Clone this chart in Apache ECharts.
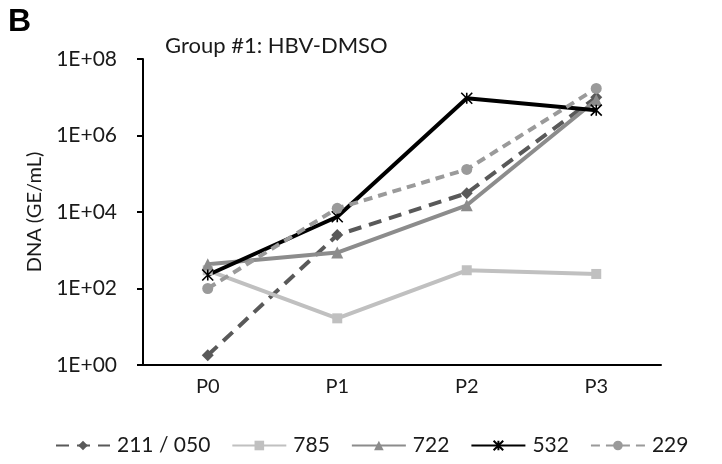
<!DOCTYPE html>
<html>
<head>
<meta charset="utf-8">
<script src="https://cdn.jsdelivr.net/npm/echarts@6/dist/echarts.min.js"></script>
<style>
html,body{margin:0;padding:0;background:#fff;}
#chart{width:722px;height:464px;}
</style>
</head>
<body>
<div id="chart"></div>
<script>
var categories = ['P0', 'P1', 'P2', 'P3'];
var seriesNames = ['211 / 050', '785', '722', '532', '229'];
var s211 = [1.8, 2500, 31000, 10000000];
var s785 = [300, 16.6, 300, 240];
var s722 = [430, 870, 15000, 8500000];
var s532 = [225, 7500, 9400000, 4600000];
var s229 = [100, 12500, 130000, 17000000];
var yTickExponents = [0, 2, 4, 6, 8];

var FONT = 'Lato';
var TXT = '#1a1a1a';
var chart = echarts.init(document.getElementById('chart'), null, {renderer: 'canvas'});

function fmt(v) {
  var e = Math.round(Math.log10(v));
  return '1E+' + (e < 10 ? '0' + e : '' + e);
}

var asterisk = 'path://M0,0 L10,10 M10,0 L0,10 M5,0 L5,10';

function mk(name, data, color, width, dash, symbol, size, extra) {
  var s = {
    name: name,
    type: 'line',
    data: data,
    symbol: symbol,
    symbolSize: size,
    lineStyle: {color: color, width: width, type: dash, cap: 'butt'},
    itemStyle: {color: color},
    emphasis: {disabled: true},
    animation: false
  };
  if (extra) { for (var k in extra) s[k] = extra[k]; }
  return s;
}

var option = {
  backgroundColor: '#fff',
  animation: false,
  graphic: [
    {type: 'text', left: 8, top: 6, style: {text: 'B', font: 'bold 32px "Liberation Sans", Arial', fill: '#000'}},
    {type: 'text', left: 165, top: 35, style: {text: 'Group #1: HBV-DMSO', font: '22px ' + FONT, fill: TXT}}
  ],
  grid: {left: 143, right: 61, top: 59, bottom: 99, containLabel: false},
  legend: {
    data: seriesNames,
    left: 50,
    top: 430,
    itemWidth: 54,
    itemHeight: 12,
    itemGap: 21,
    textStyle: {fontFamily: FONT, fontSize: 21, color: TXT, padding: [0, 0, 0, 2]}
  },
  xAxis: {
    type: 'category',
    data: categories,
    boundaryGap: true,
    axisLine: {lineStyle: {color: '#000', width: 2}},
    axisTick: {alignWithLabel: true, length: 6, lineStyle: {color: '#000', width: 2}},
    axisLabel: {fontFamily: FONT, fontSize: 20, color: TXT, margin: 12}
  },
  yAxis: {
    type: 'log',
    logBase: 10,
    min: 1,
    max: 1e8,
    interval: 2,
    name: 'DNA (GE/mL)',
    nameLocation: 'middle',
    nameGap: 98,
    nameTextStyle: {fontFamily: FONT, fontSize: 20, color: TXT},
    axisLine: {show: true, lineStyle: {color: '#000', width: 2}},
    axisTick: {show: true, length: 6, lineStyle: {color: '#000', width: 2}},
    splitLine: {show: false},
    axisLabel: {fontFamily: FONT, fontSize: 21, color: TXT, margin: 26,
      formatter: function (v) {
        var e = Math.round(Math.log10(v));
        return yTickExponents.indexOf(e) >= 0 ? fmt(v) : '';
      }}
  },
  series: [
    mk('211 / 050', s211, '#595959', 4, [13, 8], 'diamond', 12),
    mk('785', s785, '#c0c0c0', 4, 'solid', 'rect', 10),
    mk('722', s722, '#8c8c8c', 4, 'solid', 'triangle', 12),
    mk('532', s532, '#000000', 4, 'solid', asterisk, 11, {itemStyle: {color: 'none', borderColor: '#000', borderWidth: 1.6}}),
    mk('229', s229, '#9a9a9a', 4, [9, 6], 'circle', 11)
  ]
};
chart.setOption(option);
</script>
</body>
</html>
